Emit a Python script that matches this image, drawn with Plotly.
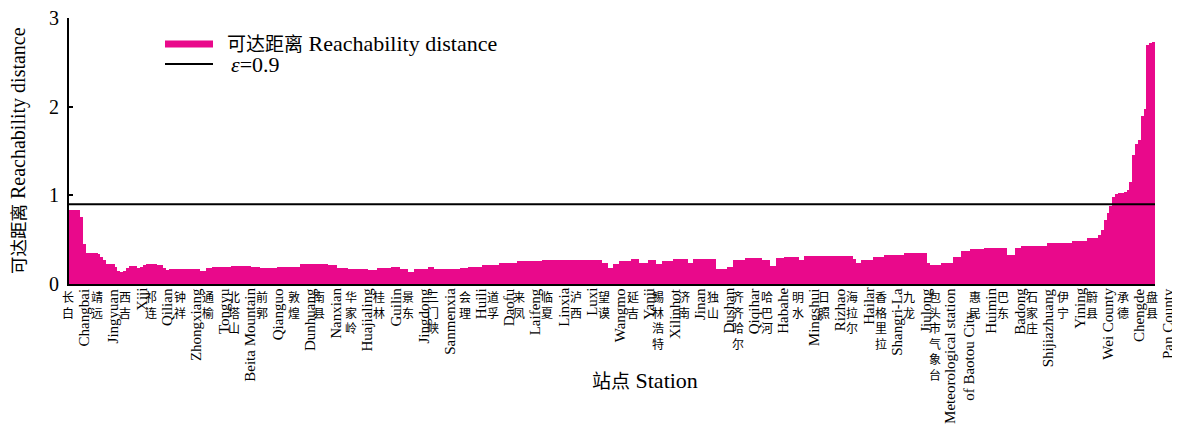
import plotly.graph_objects as go

# ---------------- data ----------------
reach = [
    0.84, 0.84, 0.83, 0.83, 0.76, 0.45, 0.35, 0.35, 0.35, 0.35,
    0.34, 0.31, 0.27, 0.23, 0.23, 0.23, 0.195, 0.15, 0.14, 0.15,
    0.18, 0.2, 0.2, 0.2, 0.18, 0.195, 0.21, 0.22, 0.22, 0.22,
    0.22, 0.21, 0.21, 0.18, 0.16, 0.165, 0.165, 0.165, 0.17, 0.17,
    0.17, 0.17, 0.17, 0.17, 0.165, 0.165, 0.15, 0.15, 0.18, 0.18,
    0.195, 0.195, 0.195, 0.195, 0.195, 0.195, 0.195, 0.2, 0.2, 0.2,
    0.2, 0.2, 0.2, 0.2, 0.19, 0.19, 0.19, 0.18, 0.18, 0.18,
    0.18, 0.18, 0.18, 0.195, 0.195, 0.195, 0.195, 0.195, 0.195, 0.195,
    0.195, 0.22, 0.22, 0.22, 0.22, 0.22, 0.23, 0.23, 0.23, 0.23,
    0.23, 0.21, 0.21, 0.21, 0.18, 0.18, 0.18, 0.18, 0.17, 0.17,
    0.17, 0.17, 0.17, 0.17, 0.17, 0.16, 0.16, 0.16, 0.18, 0.18,
    0.18, 0.18, 0.18, 0.195, 0.195, 0.195, 0.165, 0.165, 0.165, 0.135,
    0.135, 0.17, 0.17, 0.17, 0.17, 0.17, 0.195, 0.195, 0.17, 0.17,
    0.17, 0.17, 0.17, 0.17, 0.17, 0.17, 0.17, 0.175, 0.175, 0.175,
    0.19, 0.19, 0.19, 0.19, 0.19, 0.215, 0.215, 0.215, 0.215, 0.215,
    0.215, 0.24, 0.24, 0.24, 0.24, 0.24, 0.24, 0.26, 0.26, 0.26,
    0.26, 0.26, 0.26, 0.26, 0.26, 0.26, 0.27, 0.27, 0.27, 0.27,
    0.27, 0.27, 0.27, 0.27, 0.27, 0.27, 0.27, 0.27, 0.27, 0.27,
    0.27, 0.27, 0.27, 0.27, 0.275, 0.275, 0.275, 0.24, 0.24, 0.18,
    0.18, 0.22, 0.22, 0.26, 0.26, 0.26, 0.26, 0.28, 0.28, 0.28,
    0.24, 0.24, 0.24, 0.27, 0.27, 0.27, 0.225, 0.225, 0.26, 0.26,
    0.26, 0.26, 0.28, 0.28, 0.28, 0.28, 0.28, 0.24, 0.24, 0.28,
    0.28, 0.28, 0.28, 0.28, 0.28, 0.28, 0.28, 0.165, 0.165, 0.165,
    0.165, 0.19, 0.19, 0.27, 0.27, 0.27, 0.27, 0.29, 0.29, 0.29,
    0.29, 0.29, 0.29, 0.27, 0.27, 0.27, 0.2, 0.2, 0.29, 0.29,
    0.29, 0.31, 0.31, 0.31, 0.31, 0.31, 0.27, 0.27, 0.315, 0.315,
    0.315, 0.315, 0.315, 0.315, 0.315, 0.315, 0.315, 0.315, 0.315, 0.315,
    0.315, 0.315, 0.315, 0.315, 0.315, 0.28, 0.24, 0.24, 0.27, 0.27,
    0.27, 0.27, 0.3, 0.3, 0.3, 0.3, 0.327, 0.327, 0.327, 0.327,
    0.327, 0.327, 0.327, 0.353, 0.353, 0.353, 0.353, 0.353, 0.353, 0.353,
    0.353, 0.233, 0.214, 0.214, 0.214, 0.214, 0.233, 0.233, 0.233, 0.233,
    0.31, 0.31, 0.31, 0.372, 0.372, 0.372, 0.39, 0.39, 0.39, 0.39,
    0.39, 0.406, 0.406, 0.406, 0.406, 0.406, 0.406, 0.406, 0.406, 0.327,
    0.327, 0.327, 0.41, 0.41, 0.43, 0.43, 0.43, 0.43, 0.43, 0.43,
    0.43, 0.43, 0.43, 0.46, 0.46, 0.46, 0.46, 0.46, 0.46, 0.46,
    0.46, 0.46, 0.49, 0.49, 0.49, 0.49, 0.49, 0.515, 0.515, 0.515,
    0.515, 0.55, 0.61, 0.72, 0.8, 0.88, 0.98, 1.02, 1.03, 1.03,
    1.04, 1.06, 1.15, 1.45, 1.58, 1.62, 1.9, 1.97, 2.7, 2.72, 2.73,
]

eps = 0.9

label_pos = [0, 10, 20, 29, 39, 49, 58, 68, 79, 88,
             99, 109, 119, 128, 139, 149, 158, 168, 178, 188,
             198, 207, 216, 226, 235, 245, 256, 265, 275, 285,
             295, 304, 318, 328, 338, 349, 359, 370, 380]

label_zh = ["长白", "靖远", "西吉", "祁连", "钟祥", "通榆", "北塔山", "前郭", "敦煌", "南县",
            "华家岭", "桂林", "景东", "三门峡", "会理", "道孚", "来凤", "临夏", "泸西", "望谟",
            "延吉", "锡林浩特", "济南", "独山", "齐齐哈尔", "哈巴河", "明水", "日照", "海拉尔", "香格里拉",
            "九龙", "包头市气象台", "惠民", "巴东", "石家庄", "伊宁", "蔚县", "承德", "盘县"]

label_en = ["Changbai", "Jingyuan", "Xiji", "Qilian", "Zhongxiang", "Tongyu", "Beita Mountain",
            "Qianguo", "Dunhuang", "Nanxian", "Huajialing", "Guilin", "Jingdong", "Sanmenxia",
            "Huili", "Daofu", "Laifeng", "Linxia", "Luxi", "Wangmo", "Yanji", "Xilinhot", "Jinan",
            "Dushan", "Qiqihar", "Habahe", "Mingshui", "Rizhao", "Hailar", "Shangri-La", "Jiulong",
            "Meteorological station<br>of Baotou City", "Huimin", "Badong", "Shijiazhuang",
            "Yining", "Wei County", "Chengde", "Pan County"]

# ---------------- styling ----------------
PINK = "#E9098B"
FONT = "Liberation Serif, 'Noto Sans CJK SC', serif"
CJK = "'Noto Sans CJK SC'"
N = len(reach)
idx = list(range(N))

# page has an 8px body margin; figure sized so the plot area lands at
# page x 69..1155, y 18..284
OFF = 8
W, H = 1172, 433
L, R, T, B = 61, 25, 10, 157
pw, ph = W - L - R, H - T - B
X0, Y0 = OFF + L, OFF + T          # page coords of plot top-left
Y_BOT = Y0 + ph


def px_x(px):
    return (px - X0) / pw


def px_y(py):
    return (Y_BOT - py) / ph


def mixed(zh, en, zh_size=19):
    return f'<span style="font-size:{zh_size}px">{zh}</span> {en}'


fig = go.Figure()
fig.add_trace(go.Bar(x=idx, y=reach, marker=dict(color=PINK, line=dict(width=0)),
                     width=1.0, showlegend=False, hoverinfo="y"))
fig.add_trace(go.Scatter(x=[-0.5, N - 0.5], y=[eps, eps], mode="lines",
                         line=dict(color="black", width=2), showlegend=False))

annotations = []
for pos, zh, en in zip(label_pos, label_zh, label_en):
    annotations.append(dict(
        x=pos, y=0, xref="x", yref="paper", text="<br>".join(list(zh)),
        showarrow=False, xanchor="center", yanchor="top", yshift=-2, xshift=-2,
        font=dict(family=CJK, size=12, color="black")))
    nl = en.count("<br>")
    annotations.append(dict(
        x=pos, y=0, xref="x", yref="paper", text=en, textangle=-90,
        showarrow=False, xanchor="center", yanchor="top", yshift=-2, xshift=14 + 9 * nl,
        font=dict(family=FONT, size=15, color="black")))

# axis titles
annotations.append(dict(x=px_x(18), y=0.5, xref="paper", yref="paper",
                        text=mixed("可达距离", "Reachability distance", 17.5), textangle=-90,
                        showarrow=False, xanchor="center", yanchor="middle",
                        font=dict(family=FONT, size=20, color="black")))
annotations.append(dict(x=px_x(645), y=px_y(380), xref="paper", yref="paper",
                        text=mixed("站点", "Station"), showarrow=False,
                        xanchor="center", yanchor="middle",
                        font=dict(family=FONT, size=22, color="black")))

# legend (drawn)
shapes = [
    dict(type="line", xref="paper", yref="paper", x0=px_x(165), x1=px_x(213),
         y0=px_y(44), y1=px_y(44), line=dict(color=PINK, width=7)),
    dict(type="line", xref="paper", yref="paper", x0=px_x(165), x1=px_x(213),
         y0=px_y(64), y1=px_y(64), line=dict(color="black", width=2)),
]
annotations.append(dict(x=px_x(225), y=px_y(43), xref="paper", yref="paper",
                        text=mixed("可达距离", "Reachability distance"), showarrow=False,
                        xanchor="left", yanchor="middle",
                        font=dict(family=FONT, size=22, color="black")))
annotations.append(dict(x=px_x(229), y=px_y(64), xref="paper", yref="paper",
                        text="<i>ε</i>=0.9", showarrow=False,
                        xanchor="left", yanchor="middle",
                        font=dict(family=FONT, size=22, color="black")))

fig.update_layout(
    width=W, height=H,
    margin=dict(l=L, r=R, t=T, b=B, autoexpand=False),
    plot_bgcolor="white", paper_bgcolor="white",
    bargap=0,
    font=dict(family=FONT, size=18, color="black"),
    xaxis=dict(range=[-0.5, N - 0.5], showticklabels=False, ticks="", showgrid=False,
               zeroline=False, showline=True, linecolor="black", linewidth=2),
    yaxis=dict(range=[0, 3], tickvals=[0, 1, 2, 3], ticks="inside", ticklen=4, tickwidth=2,
               tickcolor="black", showgrid=False, zeroline=False, showline=True,
               linecolor="black", linewidth=2, tickfont=dict(family=FONT, size=20),
               ticklabeloverflow="allow", ticklabelstandoff=4),
    annotations=annotations,
    shapes=shapes,
    showlegend=False,
)

fig.write_html("out.html")
